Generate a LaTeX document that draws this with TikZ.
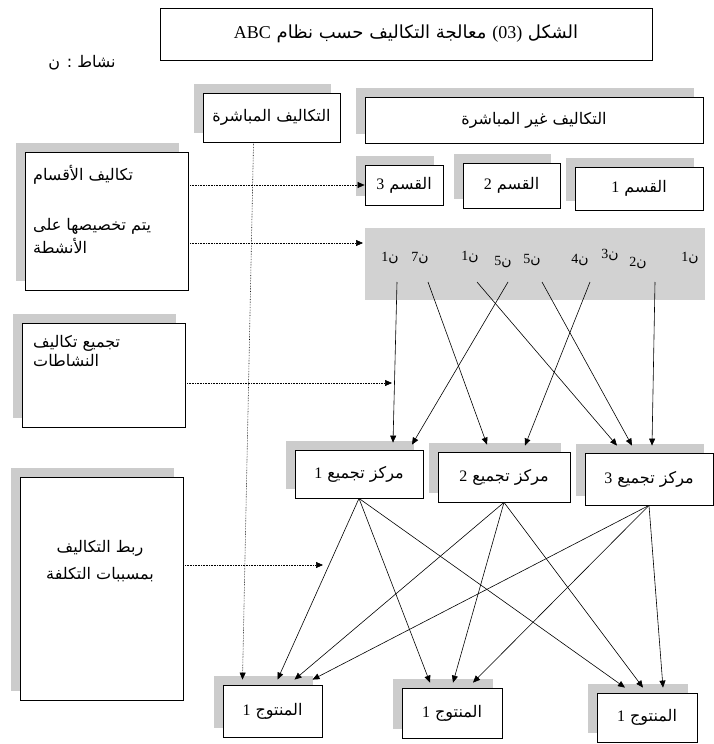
\documentclass[tikz,border=0pt]{standalone}
\usepackage{fontspec}
\setmainfont{Liberation Serif}
\newfontfamily\arfont[Script=Arabic]{DejaVu Sans}
\TeXXeTstate=1
\usetikzlibrary{arrows.meta,shadows}
\newcommand\artext[1]{{\arfont\beginR #1\endR}}
\newcommand\latn[1]{\beginL{\rmfamily #1}\endL{}}

\begin{document}
\begin{tikzpicture}[x=1pt, y=-1pt,
box/.style={draw, thick, fill=white, inner sep=0pt, font=\fontsize{16}{19}\selectfont,
  general shadow={fill=gray!40, shadow xshift=-9pt, shadow yshift=9pt}},
lbl/.style={inner sep=0pt, font=\fontsize{16}{19}\selectfont},
num/.style={inner sep=0pt, font=\fontsize{14}{16}\selectfont},
arr/.style={line width=0.6pt, -{Triangle[length=7pt,width=6pt]}},
dots/.style={densely dotted, line width=0.6pt, -{Triangle[length=7pt,width=6pt]}}]
\useasboundingbox (0,0) rectangle (714,744);

\node [draw, thick, inner sep=0pt, minimum width=492pt, minimum height=52pt, font=\fontsize{18}{21}\selectfont] (title) at (406,34)
  {\artext{الشكل \latn{(03)} معالجة التكاليف حسب نظام \latn{ABC}}};
\node [lbl] (key) at (82,63) {\artext{نشاط : ن}};

\node [box, minimum width=137pt, minimum height=49pt] (dir) at (271.5,117.5) {\artext{التكاليف المباشرة}};
\node [box, minimum width=338pt, minimum height=46pt] (indir) at (534,120) {\artext{التكاليف غير المباشرة}};
\node [box, minimum width=78pt, minimum height=40pt] (q_3) at (404,185) {\artext{القسم \latn{3}}};
\node [box, minimum width=97pt, minimum height=45pt] (q_2) at (511.5,185.5) {\artext{القسم \latn{2}}};
\node [box, minimum width=128pt, minimum height=43pt] (q_1) at (639,188.5) {\artext{القسم \latn{1}}};

\node [box, minimum width=163pt, minimum height=138pt] (A) at (106.5,221) {};
\node [lbl, anchor=west] (a_1) at (33,175) {\artext{تكاليف الأقسام}};
\node [lbl, anchor=west, align=left, font=\fontsize{16}{23}\selectfont] (a_2) at (33,236)
  {\artext{يتم تخصيصها على}\\\artext{الأنشطة}};
\node [box, minimum width=163pt, minimum height=104pt] (B) at (103.5,375) {};
\node [lbl, anchor=west, align=left, font=\fontsize{16}{19}\selectfont] (b_1) at (33,351)
  {\artext{تجميع تكاليف}\\\artext{النشاطات}};
\node [box, minimum width=163pt, minimum height=223pt] (C) at (101.5,588.5) {};
\node [lbl, align=center, font=\fontsize{16}{27}\selectfont] (c_0) at (100,561)
  {\artext{ربط التكاليف}\\\artext{بمسببات التكلفة}};

\node [fill=gray!35, inner sep=0pt, minimum width=340pt, minimum height=72pt] (band) at (535,264) {};
\node [num] (n_1) at (390,258) {\artext{ن\latn{1}}};
\node [num] (n_2) at (420,258) {\artext{ن\latn{7}}};
\node [num] (n_3) at (470,257) {\artext{ن\latn{1}}};
\node [num] (n_4) at (503,262) {\artext{ن\latn{5}}};
\node [num] (n_5) at (532,260) {\artext{ن\latn{5}}};
\node [num] (n_6) at (580,260) {\artext{ن\latn{4}}};
\node [num] (n_7) at (610,255) {\artext{ن\latn{3}}};
\node [num] (n_8) at (638,263) {\artext{ن\latn{2}}};
\node [num] (n_9) at (690,258) {\artext{ن\latn{1}}};

\node [box, minimum width=128pt, minimum height=48pt] (c_1) at (359,474) {\artext{مركز تجميع \latn{1}}};
\node [box, minimum width=132pt, minimum height=50pt] (c_2) at (504,477) {\artext{مركز تجميع \latn{2}}};
\node [box, minimum width=128pt, minimum height=52pt] (c_3) at (649,479) {\artext{مركز تجميع \latn{3}}};

\node [box, minimum width=99pt, minimum height=52pt] (p_1) at (272.5,711) {\artext{المنتوج \latn{1}}};
\node [box, minimum width=100pt, minimum height=50pt] (p_2) at (452,713) {\artext{المنتوج \latn{1}}};
\node [box, minimum width=100pt, minimum height=49pt] (p_3) at (647,717.5) {\artext{المنتوج \latn{1}}};

\coordinate (bandin) at (363,243);
\coordinate (aggin) at (392,383);
\coordinate (linkin) at (323,565);

\path [dots]
(A.east |- q_3.west) edge (q_3.west)
(A.east |- bandin) edge (bandin)
(B.east |- aggin) edge (aggin)
(C.east |- linkin) edge (linkin)
([xshift=-18pt]dir.south) edge ([shift={(-30,-5)}]p_1.north);

\path [arr]
([shift={(7,24)}]n_1.center) edge ([shift={(34,-7)}]c_1.north)
([shift={(8,24)}]n_2.center) edge ([shift={(-17,-7)}]c_2.north)
([shift={(7,25)}]n_3.center) edge ([shift={(-32,-7)}]c_3.north)
([shift={(5,20)}]n_4.center) edge ([shift={(53,-5)}]c_1.north)
([shift={(10,22)}]n_5.center) edge ([shift={(-17,-7)}]c_3.north)
([shift={(10,22)}]n_6.center) edge ([shift={(21,-6)}]c_2.north)
([shift={(17,19)}]n_8.center) edge ([shift={(3,-7)}]c_3.north);

\path [arr]
(c_1.south) edge ([shift={(5,-5)}]p_1.north) edge ([shift={(-22,-5)}]p_2.north) edge ([shift={(-22,-5)}]p_3.north)
(c_2.south) edge ([shift={(22,-5)}]p_1.north) edge ([shift={(1,-5)}]p_2.north) edge ([shift={(-4,-5)}]p_3.north)
(c_3.south) edge ([shift={(40,-5)}]p_1.north) edge ([shift={(21,-5)}]p_2.north) edge ([shift={(16,-5)}]p_3.north);
\end{tikzpicture}
\end{document}
